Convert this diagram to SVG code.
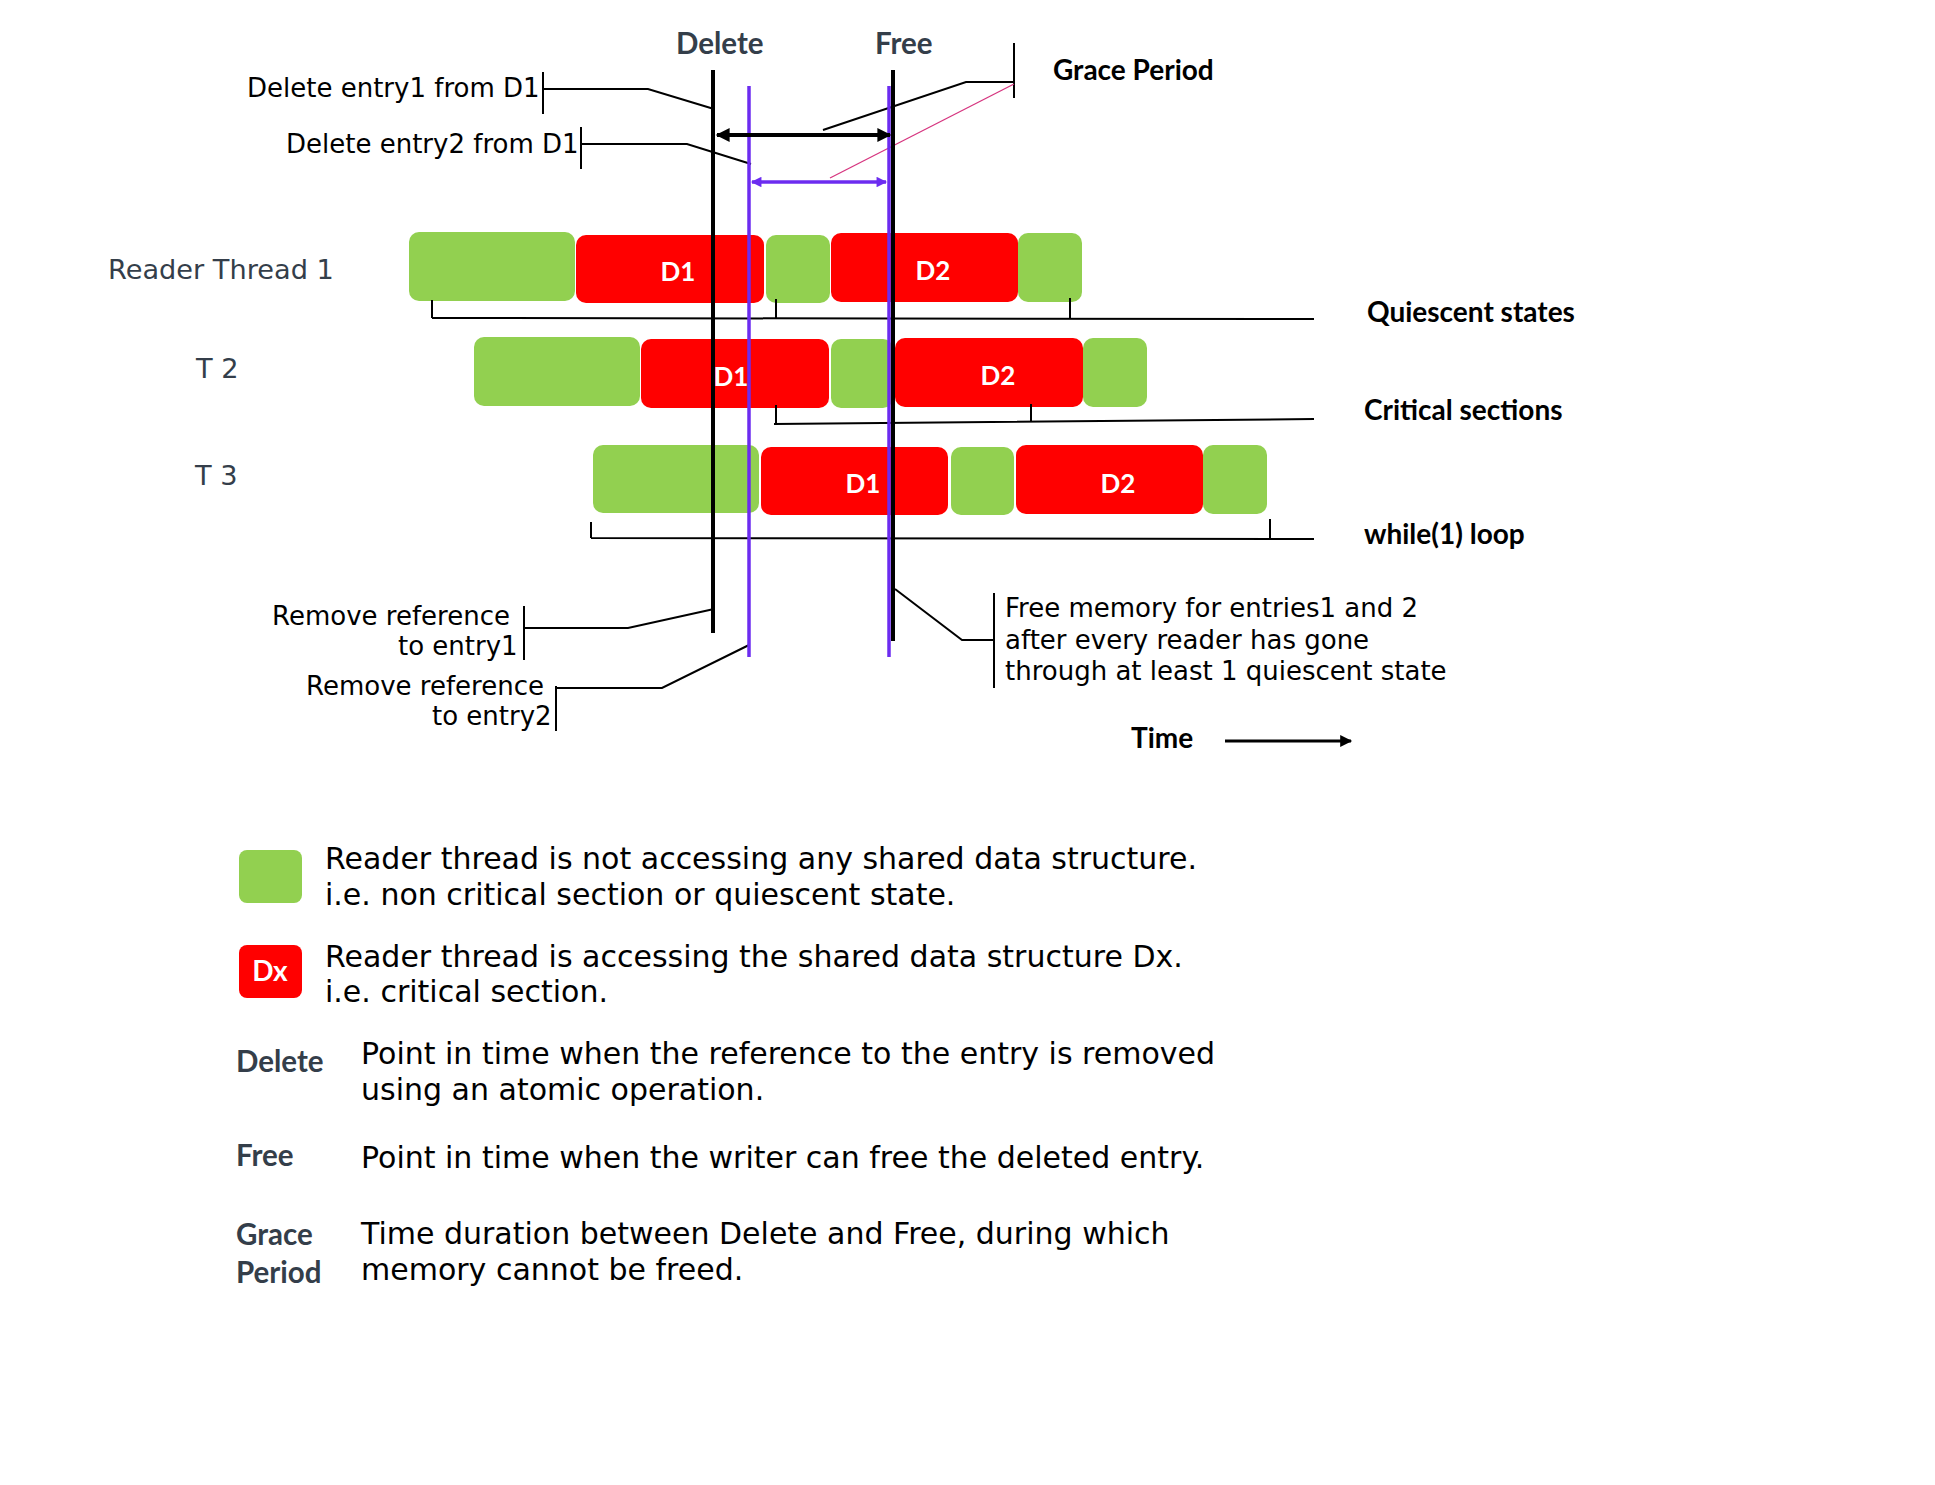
<svg xmlns="http://www.w3.org/2000/svg" width="1935" height="1485" viewBox="0 0 1935 1485">
<defs>
<style>
.t{font-family:"DejaVu Sans",sans-serif;font-size:26px;fill:#000}
.tl{font-family:"DejaVu Sans",sans-serif;font-size:30px;fill:#000}
.th{font-family:"DejaVu Sans",sans-serif;font-size:27.2px;fill:#343e4a}
.b{font-family:Lato,sans-serif;font-weight:bold;font-size:28px;fill:#000}
.bs{font-family:Lato,sans-serif;font-weight:bold;font-size:29.5px;fill:#343e4a}
.bx{font-family:Lato,sans-serif;font-weight:bold;font-size:26px;fill:#fff;text-anchor:middle}
.g{fill:#92d050}
.r{fill:#ff0000}
.ln{stroke:#000;stroke-width:2;fill:none}
.pk{stroke:#d6357f;stroke-width:1.3;fill:none}
.vb{stroke:#000;stroke-width:4}
.vp{stroke:#6c2cf0;stroke-width:3.5}
</style>
<marker id="ab" viewBox="0 0 10 10" refX="9" refY="5" markerWidth="4" markerHeight="3.5" orient="auto-start-reverse" markerUnits="strokeWidth"><path d="M0,0 L10,5 L0,10 z" fill="#000"/></marker>
<marker id="ap" viewBox="0 0 10 10" refX="9" refY="5" markerWidth="3.5" markerHeight="3" orient="auto-start-reverse" markerUnits="strokeWidth"><path d="M0,0 L10,5 L0,10 z" fill="#6c2cf0"/></marker>
<marker id="at" viewBox="0 0 10 10" refX="9" refY="5" markerWidth="4.5" markerHeight="4" orient="auto" markerUnits="strokeWidth"><path d="M0,0 L10,5 L0,10 z" fill="#000"/></marker>
</defs>
<rect width="1935" height="1485" fill="#fff"/>

<g id="headers">
<text class="bs" x="676" y="54">Delete</text>
<text class="bs" x="875" y="54">Free</text>
<text class="b" x="1053" y="80">Grace Period</text>
</g>

<g id="labels">
<text class="t" x="247" y="97">Delete entry1 from D1</text>
<text class="t" x="286" y="153">Delete entry2 from D1</text>
<text class="th" x="108" y="279">Reader Thread 1</text>
<text class="th" x="196" y="378">T 2</text>
<text class="th" x="195" y="485">T 3</text>
<text class="b" x="1367" y="322">Quiescent states</text>
<text class="b" x="1364" y="420">Critical sections</text>
<text class="b" x="1364" y="544">while(1) loop</text>
<text class="t" x="272" y="625">Remove reference</text>
<text class="t" x="398" y="655">to entry1</text>
<text class="t" x="306" y="695">Remove reference</text>
<text class="t" x="432" y="725">to entry2</text>
<text class="t" x="1005" y="617">Free memory for entries1 and 2</text>
<text class="t" x="1005" y="649">after every reader has gone</text>
<text class="t" x="1005" y="680">through at least 1 quiescent state</text>
<text class="b" x="1131" y="748">Time</text>
</g>

<g id="thread1">
<rect class="g" x="409" y="232" width="166" height="69" rx="10"/>
<rect class="r" x="576" y="235" width="188" height="68" rx="10"/>
<text class="bx" x="678" y="281">D1</text>
<rect class="g" x="766" y="235" width="64" height="68" rx="10"/>
<rect class="r" x="831" y="233" width="187" height="69" rx="10"/>
<text class="bx" x="933" y="280">D2</text>
<rect class="g" x="1018" y="233" width="64" height="69" rx="10"/>
</g>

<g id="thread2">
<rect class="g" x="474" y="337" width="166" height="69" rx="10"/>
<rect class="r" x="641" y="339" width="188" height="69" rx="10"/>
<text class="bx" x="731" y="386">D1</text>
<rect class="g" x="831" y="339" width="62" height="69" rx="10"/>
<rect class="r" x="895" y="338" width="188" height="69" rx="10"/>
<text class="bx" x="998" y="385">D2</text>
<rect class="g" x="1083" y="338" width="64" height="69" rx="10"/>
</g>

<g id="thread3">
<rect class="g" x="593" y="445" width="166" height="68" rx="10"/>
<rect class="r" x="761" y="447" width="187" height="68" rx="10"/>
<text class="bx" x="863" y="493">D1</text>
<rect class="g" x="951" y="447" width="63" height="68" rx="10"/>
<rect class="r" x="1016" y="445" width="187" height="69" rx="10"/>
<text class="bx" x="1118" y="493">D2</text>
<rect class="g" x="1203" y="445" width="64" height="69" rx="10"/>
</g>

<g id="connectors">
<path class="ln" d="M432,318 L1314,319 M432,300 V318 M776,299 V318 M1070,298 V318"/>
<path class="ln" d="M774,424 L1314,419 M776,405 V424 M1031,404 V422"/>
<path class="ln" d="M591,538 L1314,539 M591,522 V538 M1270,519 V538"/>
<path class="ln" d="M543,72 V114 M543,89 H648 L714,109"/>
<path class="ln" d="M581,127 V169 M581,144 H687 L751,164"/>
<path class="ln" d="M1014,43 V98 M1014,82 H966 L823,130"/>
<path class="pk" d="M1014,84 L830,178"/>
<path class="ln" d="M524,606 V660 M524,628 H628 L714,609"/>
<path class="ln" d="M556,686 V731 M556,688 H662 L749,645"/>
<path class="ln" d="M994,593 V688 M994,640 H962 L895,589"/>
<line class="vb" x1="713" y1="70" x2="713" y2="633"/>
<line class="vp" x1="749" y1="86" x2="749" y2="657"/>
<line class="vp" x1="889" y1="86" x2="889" y2="657"/>
<line class="vb" x1="893" y1="70" x2="893" y2="641"/>
<line x1="717" y1="135" x2="890" y2="135" stroke="#000" stroke-width="4" marker-start="url(#ab)" marker-end="url(#ab)"/>
<line x1="752" y1="182" x2="886" y2="182" stroke="#6c2cf0" stroke-width="3.5" marker-start="url(#ap)" marker-end="url(#ap)"/>
<line x1="1225" y1="741" x2="1351" y2="741" stroke="#000" stroke-width="3" marker-end="url(#at)"/>
</g>

<g id="legend">
<rect class="g" x="239" y="850" width="63" height="53" rx="8"/>
<text class="tl" x="325" y="869">Reader thread is not accessing any shared data structure.</text>
<text class="tl" x="325" y="905">i.e. non critical section or quiescent state.</text>
<rect class="r" x="239" y="945" width="63" height="53" rx="8"/>
<text class="bx" x="270" y="981" style="font-size:28px">Dx</text>
<text class="tl" x="325" y="967">Reader thread is accessing the shared data structure Dx.</text>
<text class="tl" x="325" y="1002">i.e. critical section.</text>
<text class="bs" x="236" y="1072">Delete</text>
<text class="tl" x="361" y="1064">Point in time when the reference to the entry is removed</text>
<text class="tl" x="361" y="1100">using an atomic operation.</text>
<text class="bs" x="236" y="1166">Free</text>
<text class="tl" x="361" y="1168">Point in time when the writer can free the deleted entry.</text>
<text class="bs" x="236" y="1245">Grace</text>
<text class="bs" x="236" y="1283">Period</text>
<text class="tl" x="361" y="1244">Time duration between Delete and Free, during which</text>
<text class="tl" x="361" y="1280">memory cannot be freed.</text>
</g>
</svg>
